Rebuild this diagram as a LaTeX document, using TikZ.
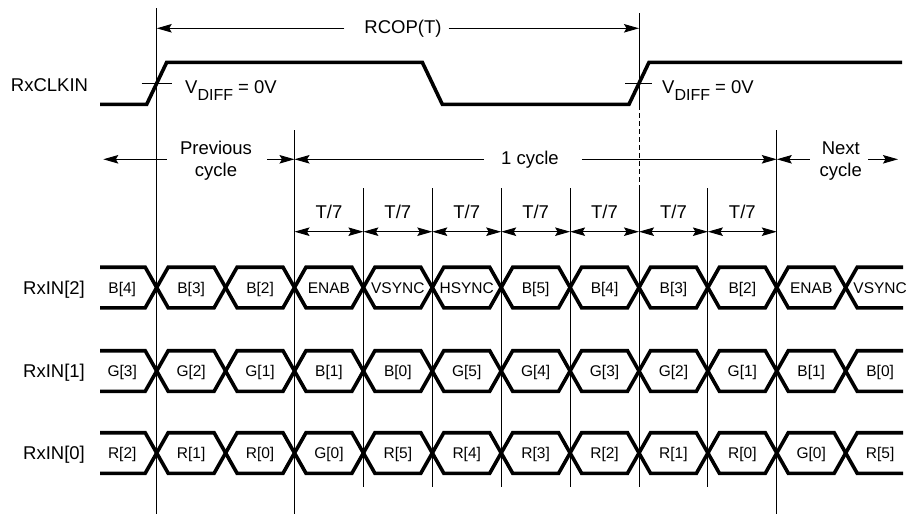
\documentclass[tikz,border=0pt]{standalone}
\usepackage{fontspec}
\setmainfont{Liberation Sans}
\usetikzlibrary{arrows.meta}

\begin{document}
\begin{tikzpicture}[x=1pt, y=-1pt,
        sig/.style = {line width=3.6pt, line join=miter},
        rule/.style = {line width=1pt},
        dim/.style = {rule, -{Stealth[length=15pt,width=8.5pt,inset=2.5pt]}},
        both/.style = {rule, {Stealth[length=15pt,width=8.5pt,inset=2.5pt]}-{Stealth[length=15pt,width=8.5pt,inset=2.5pt]}},
        lbl/.style = {inner sep=0pt, align=center, font=\fontsize{18.5}{21.7}\selectfont},
        data/.style = {inner sep=0pt, anchor=base, font=\fontsize{15.5}{18}\selectfont}]
        \useasboundingbox (0,0) rectangle (911,514);
        % bit boundaries
        \foreach \k in {0,...,10}
                \coordinate (g\k) at ({156.7+68.9*\k},0);
        \coordinate (c0) at (g0 |- 0,83.3);
        \coordinate (c7) at (g7 |- 0,83.3);
        \coordinate (pl) at (103.3,159.3);
        \coordinate (nr) at (898,159.3);

        % clock
        \node[lbl] (clk) at (49.5,84.8) {RxCLKIN};
        \draw[sig] (100,104.3) -- (146.7,104.3) -- (166.7,62.3) -- (422.3,62.3) -- (442.3,104.3) -- (629,104.3) -- (649,62.3) -- (902,62.3);
        \draw[rule] ([xshift=-15pt]c0) -- ([xshift=15pt]c0);
        \draw[rule] ([xshift=-14pt]c7) -- ([xshift=13pt]c7);
        \node[lbl, anchor=base west] (vd1) at (185,93.3) {V\raisebox{-6.7pt}{\fontsize{16}{16}\selectfont DIFF} = 0V};
        \node[lbl, anchor=base west] (vd2) at (662,93.3) {V\raisebox{-6.7pt}{\fontsize{16}{16}\selectfont DIFF} = 0V};

        % vertical markers
        \draw[rule] (g0 |- 0,8) -- (g0 |- 0,514);
        \draw[rule] (g2 |- 0,130) -- (g2 |- 0,514);
        \draw[rule] (g9 |- 0,130) -- (g9 |- 0,514);
        \draw[rule] (g7 |- 0,13) -- (g7 |- 0,105);
        \draw[rule, dash pattern=on 5pt off 3pt] (g7 |- 0,105) -- (g7 |- 0,188);
        \foreach \k in {3,...,8}
                \draw[rule] (g\k |- 0,188) -- (g\k |- 0,487);

        % period and cycles
        \node[lbl] (rcop) at (403,28.3) {RCOP(T)};
        \draw[dim] ([xshift=-20pt]rcop.west) -- (rcop -| g0);
        \draw[dim] ([xshift=7pt]rcop.east) -- (rcop -| g7);
        \node[lbl] (prev) at (216,161) {Previous\\cycle};
        \draw[dim] ([shift={(-13pt,1.7pt)}]prev.west) -- (pl);
        \draw[dim] ([shift={(15pt,1.7pt)}]prev.east) -- (g2 |- pl);
        \node[lbl] (one) at (530,159.3) {1 cycle};
        \draw[dim] ([xshift=-17pt]one.west) -- (g2 |- pl);
        \draw[dim] ([xshift=23pt]one.east) -- (g9 |- pl);
        \node[lbl] (next) at (840.8,161) {Next\\cycle};
        \draw[dim] ([shift={(-10pt,1.7pt)}]next.west) -- (g9 |- pl);
        \draw[dim] ([shift={(6pt,1.7pt)}]next.east) -- (nr);
        \foreach \k [evaluate=\k as \n using int(\k+1)] in {2,...,8}
                \draw[both] (g\k |- 0,231.7) -- node[lbl, yshift=20pt] (t\k) {T/7} (g\n |- 0,231.7);

        % data lanes
        \foreach \y/\n/\bits in {287.5/2/{B[4],B[3],B[2],ENAB,VSYNC,HSYNC,B[5],B[4],B[3],B[2],ENAB,VSYNC},
                371/1/{G[3],G[2],G[1],B[1],B[0],G[5],G[4],G[3],G[2],G[1],B[1],B[0]},
                453/0/{R[2],R[1],R[0],G[0],R[5],R[4],R[3],R[2],R[1],R[0],G[0],R[5]}} {
                \node[lbl, anchor=base] (rx\n) at (54,{\y+6.6}) {RxIN[\n]};
                \foreach \s in {1,-1}
                        \draw[sig] (100,{\y-20.3*(\s)}) \foreach \k in {0,...,10} {-- ({156.7+68.9*\k-11.5},{\y-20.3*(\s)*(1-2*mod(\k,2))}) -- ({156.7+68.9*\k+11.5},{\y+20.3*(\s)*(1-2*mod(\k,2))})} -- (903,{\y+20.3*(\s)});
                \foreach \b [count=\i from 0] in \bits
                        \node[data] (d\n-\i) at ({156.7+68.9*(\i-0.5)},{\y+5.5}) {\b};
        }
\end{tikzpicture}
\end{document}
